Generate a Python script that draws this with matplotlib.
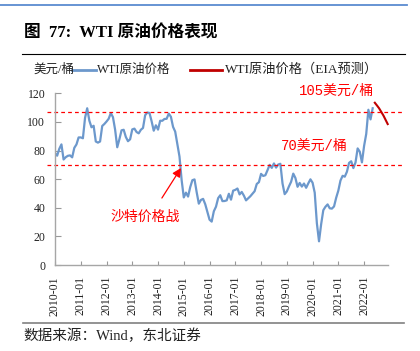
import matplotlib
matplotlib.use("Agg")
import matplotlib.pyplot as plt
from matplotlib.lines import Line2D
import numpy as np

# ---------------- data ----------------
wti = [
    78.33, 76.39, 81.20, 84.29, 73.74, 75.34, 76.32, 76.60, 75.24, 81.89, 84.25, 89.15,   # 2010
    89.17, 88.58, 102.86, 109.53, 100.90, 96.26, 97.30, 86.33, 85.52, 86.32, 97.16, 98.56,  # 2011
    100.27, 102.20, 106.16, 103.32, 94.66, 82.30, 87.90, 94.13, 94.51, 89.49, 86.53, 87.86,  # 2012
    94.76, 95.31, 92.94, 92.02, 94.51, 95.77, 104.67, 106.57, 106.29, 100.54, 93.86, 97.63,  # 2013
    94.62, 100.82, 100.80, 102.07, 102.18, 105.79, 103.59, 96.54, 93.21, 84.40, 75.79, 59.29,  # 2014
    47.22, 50.58, 47.82, 54.45, 59.27, 59.82, 50.90, 42.87, 45.48, 46.22, 42.44, 37.19,  # 2015
    31.68, 30.32, 37.55, 40.75, 46.71, 48.76, 44.65, 44.72, 45.18, 49.78, 45.66, 51.97,  # 2016
    52.50, 53.47, 49.33, 51.06, 48.48, 45.18, 46.63, 48.04, 49.82, 51.58, 56.64, 57.88,  # 2017
    63.70, 62.23, 62.73, 66.25, 69.98, 67.87, 70.98, 68.06, 70.23, 70.75, 56.96, 49.52,  # 2018
    51.38, 54.95, 58.15, 63.86, 60.83, 54.66, 57.35, 54.81, 56.95, 53.96, 57.03, 59.88,  # 2019
    57.52, 50.54, 29.21, 16.55, 28.56, 38.31, 40.71, 42.34, 39.63, 39.40, 40.94, 47.02,  # 2020
    52.00, 59.04, 62.33, 61.72, 65.17, 71.38, 72.49, 67.73, 71.65, 81.48, 79.15, 71.71,  # 2021
    83.22, 91.64, 108.50, 101.78, 109.55,  # 2022
]
eia_forecast = [113.4, 111.5, 109.5, 107.0, 104.5, 101.5, 98.5]  # 2022-06 .. 2022-12
forecast_start = 149  # month index of 2022-06
tick_labels = [f"{y}-01" for y in range(2010, 2023)]
ref_levels = [70, 106.7]

# ---------------- styling ----------------
W, H = 420, 351
def px(x, y):
    return x / W, 1 - y / H

blue = "#6C98CC"
darkred = "#C00000"
red = "#FF0000"
cjk = "Noto Sans CJK SC"
serif_mix = ["Liberation Serif", cjk]
mono_mix = ["Liberation Mono", cjk]

fig = plt.figure(figsize=(4.2, 3.51), dpi=100)

# top decorative line
fig.add_artist(Line2D([0, 407 / W], [1 - 4.7 / H] * 2, color="#5B8BD0", lw=1.3))
# title
fig.text(*px(24, 33), "图  77:  WTI 原油价格表现", family=serif_mix, fontsize=12,
         fontweight="bold", va="center", ha="left")
fig.add_artist(Line2D([22 / W, 405 / W], [1 - 54 / H] * 2, color="black", lw=0.8))

# legend
fig.text(*px(33, 69.5), "美元/桶", family=serif_mix, fontsize=9, va="center", ha="left", color="#222222")
fig.add_artist(Line2D([72 / W, 96 / W], [1 - 70 / H] * 2, color=blue, lw=2))
fig.text(*px(97, 69.5), "WTI原油价格", family=serif_mix, fontsize=9, va="center", ha="left", color="#222222")
fig.add_artist(Line2D([190 / W, 222 / W], [1 - 70 / H] * 2, color=darkred, lw=2))
fig.text(*px(225, 69.5), "WTI原油价格（EIA预测）", family=serif_mix, fontsize=9.5, va="center",
         ha="left", color="#222222")

# axes
left, right = 55 / W, 387.7 / W
bottom, top = 1 - 265 / H, 1 - 93.3 / H
ax = fig.add_axes([left, bottom, right - left, top - bottom])

x = np.arange(len(wti))
ax.plot(x, wti, color=blue, lw=1.6, solid_joinstyle="round")
xf = np.arange(forecast_start, forecast_start + len(eia_forecast))
ax.plot(xf, eia_forecast, color=darkred, lw=1.5, clip_on=False)

for lvl in ref_levels:
    ax.plot([-3.9, 162], [lvl, lvl], color=red, lw=0.9, ls=(0, (3, 2.5)), clip_on=False)

ax.set_xlim(0, 155)
ax.set_ylim(0, 120)
ax.set_yticks(range(0, 121, 20))
ax.set_xticks(np.arange(0, 12 * len(tick_labels), 12))
ax.set_xticklabels(tick_labels, rotation=90, family=serif_mix, fontsize=8.5)
for lab in ax.get_yticklabels():
    lab.set_family(serif_mix)
    lab.set_fontsize(8.5)
ax.tick_params(axis="y", direction="in", length=4, pad=7, color="#999999", labelcolor="#222222")
ax.tick_params(axis="x", direction="in", length=3, pad=8, color="#999999", labelcolor="#222222")
for s in ["top", "right"]:
    ax.spines[s].set_visible(False)
for s in ["left", "bottom"]:
    ax.spines[s].set_color("#A6A6A6")
    ax.spines[s].set_linewidth(1.0)

# annotations
ax.text(131.3, 121.6, "105美元/桶", color=red, family=mono_mix, fontsize=10,
        ha="center", va="center", clip_on=False)
ax.text(121, 83.2, "70美元/桶", color=red, family=mono_mix, fontsize=10,
        ha="center", va="center")
ax.text(41.9, 33.8, "沙特价格战", color=red, family=cjk, fontsize=10,
        ha="center", va="center")
ax.annotate("", xy=(58.7, 67.8), xytext=(49.8, 46.8),
            arrowprops=dict(arrowstyle="-|>", color=red, lw=0.9, mutation_scale=13,
                            shrinkA=0, shrinkB=0))

# footer
fig.add_artist(Line2D([23 / W, 404 / W], [1 - 322.7 / H] * 2, color="#808080", lw=1.2))
fig.text(*px(23, 336), "数据来源：Wind，东北证券", family=serif_mix, fontsize=10.5,
         va="center", ha="left", color="#222222")

fig.savefig("out.png", dpi=100)
